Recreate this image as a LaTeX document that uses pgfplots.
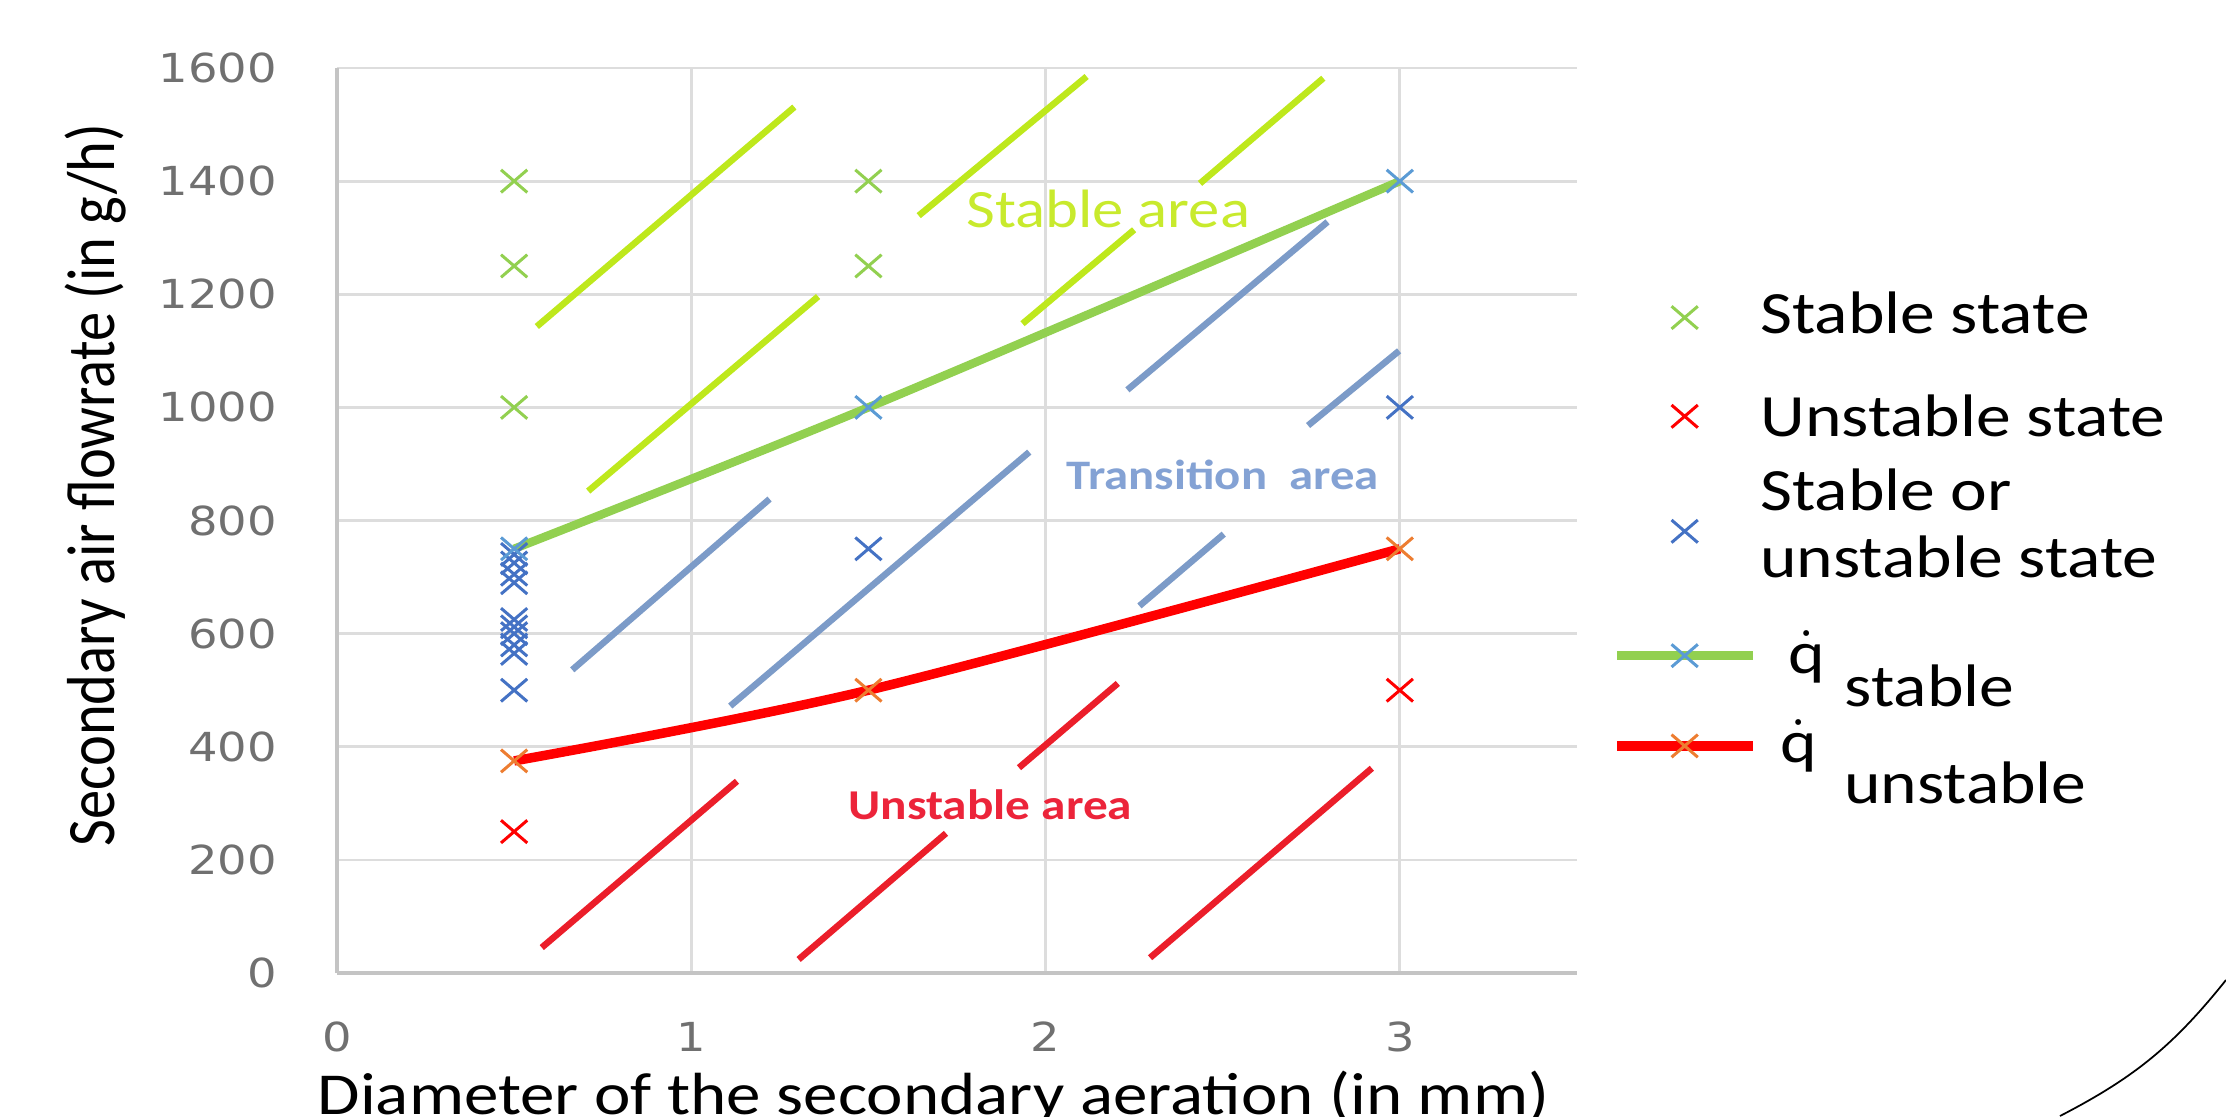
\documentclass[border=0pt]{standalone}
\usepackage{fontspec}
\usepackage{amsmath}
\usepackage{graphicx}
\usepackage{pgfplots}
\pgfplotsset{compat=1.18}
\setmainfont{Carlito}[FakeStretch=1.16]
\newfontfamily\plainfont{Carlito}
\newfontfamily\tickfont{DejaVu Sans}[FakeStretch=1.16]

\definecolor{gridgray}{HTML}{DDDDDD}
\definecolor{axisgray}{HTML}{C4C4C4}
\definecolor{tickgray}{HTML}{707070}
\definecolor{stablegreen}{HTML}{92D050}
\definecolor{qblue}{HTML}{5B9BD5}
\definecolor{darkblue}{HTML}{4472C4}
\definecolor{qorange}{HTML}{ED7D31}
\definecolor{limeg}{RGB}{190,232,28}
\definecolor{limetext}{RGB}{200,234,45}
\definecolor{hatchblue}{RGB}{124,155,200}
\definecolor{transtext}{RGB}{132,162,212}
\definecolor{hatchred}{RGB}{235,30,42}
\definecolor{unsttext}{RGB}{236,36,58}

\pgfplotsset{
  % legend image with an invisible strut: #1 below, #2 above the line
  myleg/.style 2 args={legend image code/.code={%
    \path[draw=none,fill=none] (0pt,-#1) -- (0pt,#2);
    \draw[mark repeat=2,mark phase=2,##1] plot coordinates {(0pt,0pt)(13.5pt,0pt)(27pt,0pt)};}},
  xmark/.style={only marks, mark=x, mark size=3.2pt,
    mark options={xscale=1.16, line width=0.6pt, solid, draw=#1}},
  hatch/.style={forget plot, no markers, line width=1.3pt, color=#1},
}

\begin{document}
\begin{tikzpicture}
\path[use as bounding box] (-67.4pt,-28.6pt) rectangle (377.8pt,194.6pt);
\begin{axis}[
  at={(0pt,0pt)}, anchor=south west,
  scale only axis, width=248pt, height=181pt,
  xmin=0, xmax=3.5, ymin=0, ymax=1600,
  xtick={0,1,2,3}, ytick={0,200,...,1600},
  grid=major, grid style={draw=gridgray, line width=0.55pt},
  axis x line*=bottom, axis y line*=left,
  axis line style={draw=axisgray, line width=0.75pt, -},
  major tick length=0pt,
  tick label style={font=\tickfont\fontsize{8}{9}\selectfont, text=tickgray},
  /pgf/number format/assume math mode=true,
  /pgf/number format/set thousands separator={},
  xticklabel style={anchor=center, yshift=-12.8pt},
  yticklabel style={anchor=east, inner sep=0pt, xshift=-11.8pt},
  xlabel={Diameter of the secondary aeration (in mm)},
  xlabel style={at={(axis description cs:0.481,0)}, anchor=base, yshift=-28.2pt,
    font=\fontsize{11.9}{14}\selectfont},
  ylabel={\scalebox{1}[1.16]{\plainfont Secondary air flowrate (in g/h)}},
  ylabel style={at={(axis description cs:-0.195,0.539)}, anchor=center,
    font=\fontsize{11.7}{14}\selectfont},
  legend cell align=left,
  legend style={at={(axis description cs:1.0286,0.7773)}, anchor=north west,
    draw=none, fill=none, inner sep=0pt, outer sep=0pt, row sep=0pt,
    column sep=0.7pt, nodes={inner sep=0pt, text height=0pt, text depth=0pt},
    font=\fontsize{12}{13.4}\selectfont},
]

% hatching of the three areas
\addplot[hatch=limeg] coordinates {(0.564,1143) (1.291,1531)};
\addplot[hatch=limeg] coordinates {(0.709,852) (1.358,1196)};
\addplot[hatch=limeg] coordinates {(1.642,1339) (2.116,1585)};
\addplot[hatch=limeg] coordinates {(1.935,1148) (2.250,1314)};
\addplot[hatch=limeg] coordinates {(2.436,1396) (2.784,1582)};
\addplot[hatch=hatchblue] coordinates {(0.664,536) (1.221,838)};
\addplot[hatch=hatchblue] coordinates {(1.110,472) (1.954,921)};
\addplot[hatch=hatchblue] coordinates {(2.231,1031) (2.796,1328)};
\addplot[hatch=hatchblue] coordinates {(2.741,968) (2.998,1100)};
\addplot[hatch=hatchblue] coordinates {(2.265,649) (2.503,776)};
\addplot[hatch=hatchred] coordinates {(0.578,45) (1.129,339)};
\addplot[hatch=hatchred] coordinates {(1.303,24) (1.719,247)};
\addplot[hatch=hatchred] coordinates {(1.925,363) (2.204,512)};
\addplot[hatch=hatchred] coordinates {(2.295,27) (2.921,362)};

\node[text=limetext, font=\fontsize{10.8}{12}\selectfont] at (axis cs:2.177,1350) {Stable area};
\node[text=transtext, font=\bfseries\fontsize{8.4}{10}\selectfont] at (axis cs:2.50,880) {Transition~ area};
\node[text=unsttext, font=\bfseries\fontsize{8.5}{10}\selectfont] at (axis cs:1.844,297) {Unstable area};

% measurements
\addplot[xmark=stablegreen, myleg={9.6pt}{9.6pt}] coordinates {
  (0.5,1400) (0.5,1250) (0.5,1000) (1.5,1400) (1.5,1250)};
\addlegendentry{\raisebox{-3.2pt}{Stable state}}

\addplot[xmark=red, myleg={11.5pt}{10.15pt}] coordinates {(0.5,250) (3,500)};
\addlegendentry{\raisebox{-4pt}{Unstable state}}

\addplot[xmark=darkblue, myleg={12.15pt}{11.5pt}] coordinates {
  (0.5,740) (0.5,725) (0.5,705) (0.5,690) (0.5,625) (0.5,612)
  (0.5,600) (0.5,580) (0.5,565) (0.5,500) (1.5,750) (3,1000)};
\addlegendentry{\raisebox{-9.2pt}{\parbox[b]{100pt}{Stable or\\unstable state}}}

\addplot[smooth, draw=stablegreen, line width=1.7pt, mark=x, mark size=3.2pt,
  mark options={xscale=1.16, line width=0.6pt, solid, draw=qblue}, myleg={9.45pt}{12.72pt}]
  coordinates {(0.5,750) (1.5,1000) (3,1400)};
\addlegendentry{\raisebox{-3.6pt}{\hspace*{5.6pt}$\dot{\text{q}}$\hspace{4pt}\raisebox{-6.5pt}{stable}}}

\addplot[smooth, draw=red, line width=1.9pt, mark=x, mark size=3.2pt,
  mark options={xscale=1.16, line width=0.6pt, solid, draw=qorange}, myleg={9.6pt}{8.6pt}]
  coordinates {(0.5,375) (1.5,500) (3,750)};
\addlegendentry{\raisebox{-3.4pt}{\hspace*{4pt}$\dot{\text{q}}$\hspace{5.4pt}\raisebox{-8.2pt}{unstable}}}

\end{axis}
\draw[black, line width=0.35pt] (344.6pt,-28.6pt) to[bend right=12] (377.8pt,-1.4pt);
\end{tikzpicture}
\end{document}
